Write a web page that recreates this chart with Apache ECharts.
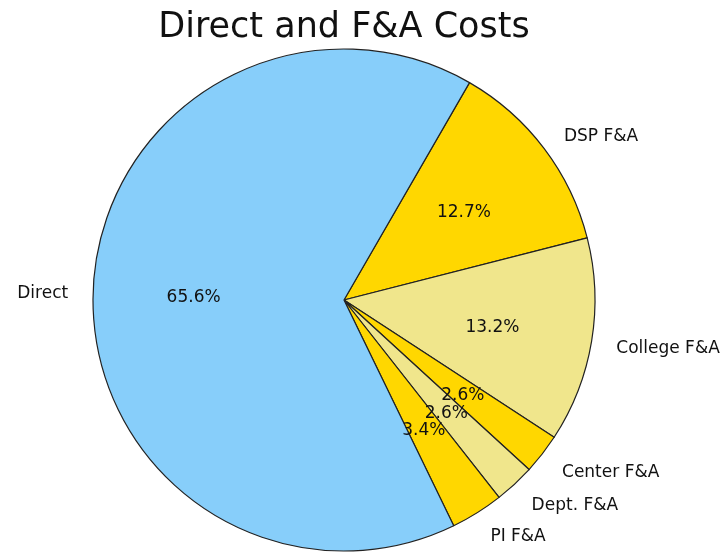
<!DOCTYPE html>
<html>
<head>
<meta charset="utf-8">
<title>Direct and F&amp;A Costs</title>
<script src="https://cdn.jsdelivr.net/npm/echarts@6/dist/echarts.min.js"></script>
<style>
  html, body { margin: 0; padding: 0; background: #ffffff; }
  #chart { width: 727px; height: 553px; }
</style>
</head>
<body>
<div id="chart"></div>
<script>
// Cost breakdown, listed clockwise from the Direct/DSP boundary
const categories = ['DSP F&A', 'College F&A', 'Center F&A', 'Dept. F&A', 'PI F&A', 'Direct'];
const shares = [12.7, 13.2, 2.6, 2.6, 3.4, 65.6];

const sliceColors = {
  'DSP F&A': '#FFD700',
  'College F&A': '#F0E68C',
  'Center F&A': '#FFD700',
  'Dept. F&A': '#F0E68C',
  'PI F&A': '#FFD700',
  'Direct': '#87CEFA'
};

const FONT = '"DejaVu Sans", sans-serif';
const LABEL_SIZE = 17;
const CX = 344, CY = 300, R = 251;

const sliceData = categories.map((name, i) => ({
  name: name,
  value: shares[i],
  itemStyle: { color: sliceColors[name] }
}));

const chart = echarts.init(document.getElementById('chart'), null, { renderer: 'canvas' });

chart.setOption({
  backgroundColor: '#ffffff',
  animation: false,
  title: {
    text: 'Direct and F&A Costs',
    left: CX - 5,
    textAlign: 'center',
    top: 5,
    textStyle: { fontFamily: FONT, fontSize: 35, fontWeight: 'normal', color: '#111' }
  },
  series: [
    {
      // wedges with category names just outside the rim
      type: 'pie',
      center: [CX, CY],
      radius: [0, R],
      startAngle: 60,
      clockwise: true,
      silent: true,
      avoidLabelOverlap: false,
      data: sliceData,
      itemStyle: { borderColor: '#222222', borderWidth: 1.2 },
      label: {
        show: true,
        position: 'outside',
        formatter: '{b}',
        fontFamily: FONT,
        fontSize: LABEL_SIZE,
        color: '#111',
        distanceToLabelLine: 0,
        offset: [0, 3]
      },
      labelLine: { show: false, length: 25, length2: 0 },
      emphasis: { disabled: true }
    },
    {
      // transparent overlay carrying the percentage labels
      type: 'pie',
      center: [CX, CY],
      radius: [44, R],
      startAngle: 60,
      clockwise: true,
      silent: true,
      avoidLabelOverlap: false,
      data: categories.map((name, i) => ({ name: name, value: shares[i] })),
      itemStyle: { color: 'rgba(0,0,0,0)', borderWidth: 0 },
      label: {
        show: true,
        position: 'inside',
        formatter: p => p.value.toFixed(1) + '%',
        fontFamily: FONT,
        fontSize: LABEL_SIZE,
        color: '#111',
        offset: [0, 3]
      },
      labelLine: { show: false },
      emphasis: { disabled: true }
    }
  ]
});
</script>
</body>
</html>
